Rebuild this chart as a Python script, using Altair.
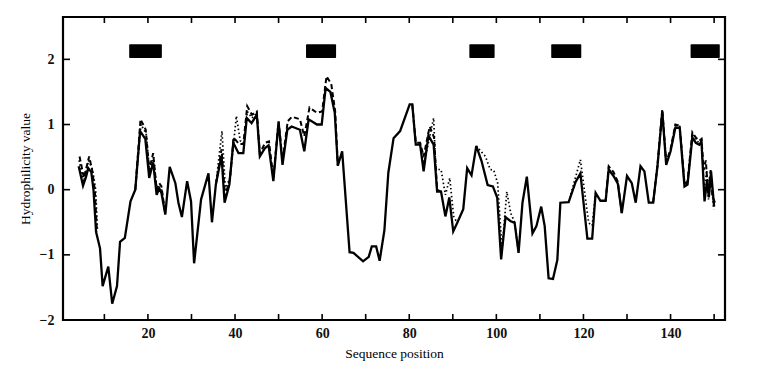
import altair as alt
import pandas as pd

# ---- data ----
solid_pos = [4.1, 5.1, 5.8, 6.3, 7.0, 7.5, 8.1, 9.0, 9.6, 10.9, 11.8, 12.9, 13.6, 14.7, 16.0, 17.1, 18.2, 19.4,
             20.3, 21.2, 22.0, 22.6, 23.1, 24.0, 25.0, 26.3, 27.0, 27.8, 29.0, 29.9, 30.6, 32.2, 33.9, 34.7,
             35.6, 36.9, 37.6, 38.7, 39.6, 40.8, 41.9, 42.7, 43.8, 45.0, 45.7, 46.9, 47.7, 48.8, 50.0, 50.9,
             52.0, 53.0, 54.9, 55.9, 56.9, 58.8, 59.9, 60.8, 61.9, 62.9, 63.6, 64.6, 66.3, 67.2, 69.4, 70.7,
             71.4, 72.4, 73.2, 74.3, 75.2, 76.4, 77.9, 80.1, 80.7, 81.5, 82.5, 83.3, 84.4, 85.6, 86.4, 87.3,
             88.3, 89.2, 90.1, 91.0, 92.4, 93.3, 94.3, 95.4, 96.6, 98.0, 99.2, 100.2, 101.1, 102.1, 103.2,
             104.2, 105.1, 106.0, 107.0, 108.3, 109.2, 110.3, 111.1, 112.0, 113.0, 114.0, 114.7, 116.6, 118.2,
             119.3, 120.9, 122.0, 122.8, 123.9, 125.1, 125.8, 126.9, 127.9, 128.8, 130.0, 131.1, 132.0, 133.1,
             134.0, 135.0, 136.0, 137.0, 138.1, 139.0, 140.0, 141.1, 142.1, 143.2, 143.9, 145.0, 145.8, 146.6,
             147.1, 147.8, 148.4, 148.8, 149.3, 150.0]
solid_val = [0.36, 0.06, 0.2, 0.33, 0.27, 0.0, -0.65, -0.9, -1.48, -1.18, -1.75, -1.48, -0.8, -0.74, -0.18, 0.0,
             0.9, 0.78, 0.18, 0.42, -0.08, 0.02, -0.05, -0.38, 0.35, 0.1, -0.2, -0.42, 0.13, -0.18, -1.13,
             -0.15, 0.25, -0.5, 0.08, 0.52, -0.2, 0.08, 0.72, 0.56, 0.56, 1.1, 1.02, 1.15, 0.51, 0.64, 0.68,
             0.13, 1.04, 0.38, 0.92, 0.97, 0.92, 0.59, 1.08, 1.0, 1.0, 1.56, 1.5, 1.18, 0.37, 0.59, -0.96,
             -0.97, -1.1, -1.03, -0.87, -0.87, -1.09, -0.62, 0.26, 0.79, 0.9, 1.31, 1.31, 0.69, 0.69, 0.28,
             0.83, 0.69, -0.03, -0.03, -0.41, -0.12, -0.64, -0.51, -0.3, 0.33, 0.22, 0.67, 0.44, 0.07, 0.05,
             -0.12, -1.07, -0.42, -0.48, -0.51, -0.97, -0.2, 0.2, -0.67, -0.56, -0.26, -0.56, -1.36, -1.37,
             -1.08, -0.2, -0.19, 0.12, 0.25, -0.75, -0.75, -0.05, -0.17, -0.17, 0.31, 0.21, 0.09, -0.36, 0.21,
             0.1, -0.2, 0.36, 0.28, -0.2, -0.2, 0.36, 1.2, 0.38, 0.59, 0.95, 0.95, 0.05, 0.08, 0.8, 0.72, 0.69,
             0.74, -0.18, 0.15, -0.12, 0.28, -0.26]

# dashed curve (only where it departs from the solid one), by segment
dashed_seg = [1] * 6 + [2] * 9 + [3] * 27 + [4] * 8 + [5] * 5 + [6] * 19
dashed_pos = [4.3, 5.3, 6.5, 7.2, 7.8, 8.3,
              17.1, 18.3, 19.5, 20.3, 21.2, 22.0, 22.6, 23.1, 24.0,
              35.6, 36.9, 37.7, 38.8, 39.7, 40.9, 41.9, 42.8, 43.9, 45.0, 45.7, 46.9, 47.8, 48.8, 50.0,
              50.9, 52.1, 53.1, 54.9, 55.9, 57.1, 58.8, 60.0, 61.0, 62.1, 63.0, 63.6,
              80.7, 81.5, 82.5, 83.3, 84.7, 85.7, 86.4, 87.3,
              125.1, 125.8, 126.9, 127.9, 128.8,
              136.0, 137.0, 138.1, 139.0, 140.0, 141.1, 142.1, 143.2, 143.9, 145.0, 145.8, 146.6, 147.1,
              147.6, 148.1, 148.6, 149.2, 149.6, 150.2]
dashed_val = [0.51, 0.18, 0.51, 0.3, 0.0, -0.65,
              0.0, 1.08, 0.92, 0.3, 0.56, 0.0, 0.1, 0.05, -0.38,
              0.08, 0.62, -0.1, 0.15, 0.8, 0.7, 0.7, 1.28, 1.15, 1.2, 0.55, 0.72, 0.74, 0.18, 1.05,
              0.45, 1.05, 1.12, 1.08, 0.82, 1.26, 1.18, 1.2, 1.74, 1.62, 1.2, 0.37,
              1.31, 0.72, 0.72, 0.51, 0.97, 0.8, 0.0, -0.03,
              -0.17, 0.36, 0.27, 0.12, -0.36,
              -0.2, 0.38, 1.23, 0.42, 0.62, 1.0, 0.98, 0.1, 0.12, 0.88, 0.8, 0.75, 0.78,
              0.3, 0.45, -0.05, 0.3, -0.1, -0.2]

# dotted curve (only where it departs from the solid one), by segment
dotted_seg = [1] * 6 + [2] * 8 + [3] * 11 + [4] * 9 + [5] * 10 + [6] * 5 + [7] * 18
dotted_pos = [4.2, 5.2, 6.4, 7.3, 8.0, 8.4,
              17.1, 18.4, 19.6, 20.4, 21.3, 22.1, 23.1, 24.0,
              35.6, 37.0, 37.8, 38.9, 40.3, 41.2, 42.0, 42.8, 43.9, 45.0, 45.7,
              82.5, 83.4, 85.6, 86.1, 87.3, 88.3, 89.3, 90.2, 91.0,
              95.4, 97.5, 98.6, 99.4, 100.3, 101.3, 102.4, 103.3, 104.2, 105.1,
              116.6, 119.3, 121.2, 122.0, 122.8,
              136.0, 137.0, 138.1, 139.0, 140.0, 141.1, 142.1, 143.2, 143.9, 145.0, 145.8, 146.6, 147.1,
              147.7, 148.3, 148.7, 149.3, 149.9]
dotted_val = [0.45, 0.12, 0.45, 0.3, 0.0, -0.6,
              0.0, 1.0, 0.86, 0.25, 0.5, -0.05, 0.02, -0.38,
              0.08, 0.9, 0.0, 0.2, 1.13, 0.75, 0.72, 1.2, 1.1, 1.18, 0.52,
              0.69, 0.4, 1.1, 0.31, 0.31, -0.08, 0.18, -0.41, -0.51,
              0.67, 0.51, 0.31, 0.3, 0.1, -0.92, -0.03, -0.36, -0.5, -0.97,
              -0.19, 0.46, -0.51, -0.55, -0.05,
              -0.2, 0.37, 1.21, 0.4, 0.6, 0.98, 0.97, 0.08, 0.1, 0.85, 0.76, 0.72, 0.76,
              0.0, 0.3, -0.15, 0.2, -0.3]

# black bars at the top
bar_start = [15.7, 56.3, 93.8, 112.6, 144.6]
bar_end = [23.2, 63.2, 99.6, 119.5, 151.3]
bar_low = [2.02, 2.02, 2.02, 2.02, 2.02]
bar_high = [2.23, 2.23, 2.23, 2.23, 2.23]

x_tick_values = [10, 20, 30, 40, 50, 60, 70, 80, 90, 100, 110, 120, 130, 140, 150]
x_label_values = [20, 40, 60, 80, 100, 120, 140]
y_tick_values = [-2, -1, 0, 1, 2]

# ---- chart ----
W, H = 662, 303
FONT = "Liberation Serif"

solid_df = pd.DataFrame({"pos": solid_pos, "val": solid_val})
dashed_df = pd.DataFrame({"pos": dashed_pos, "val": dashed_val, "seg": dashed_seg})
dotted_df = pd.DataFrame({"pos": dotted_pos, "val": dotted_val, "seg": dotted_seg})
bars_df = pd.DataFrame({"pos": bar_start, "pos2": bar_end, "val": bar_low, "val2": bar_high})
xt_df = pd.DataFrame({"pos": x_tick_values})
yt_df = pd.DataFrame({"val": y_tick_values})

xs = alt.Scale(domain=[0.5, 152.5], nice=False, zero=False)
ys = alt.Scale(domain=[-2, 2.65], nice=False, zero=False)

x_axis = alt.Axis(values=x_label_values, ticks=False, domain=False, grid=False,
                  labelFont=FONT, labelFontSize=14, labelFontWeight="bold", labelColor="#111",
                  labelPadding=6,
                  title="Sequence position", titleFont=FONT, titleFontSize=13.5,
                  titleFontWeight="normal", titleColor="black", titlePadding=6)
y_axis = alt.Axis(values=y_tick_values, format="d", ticks=False, domain=False, grid=False,
                  labelFont=FONT, labelFontSize=14, labelFontWeight="bold", labelColor="#111",
                  labelPadding=9,
                  title="Hydrophilicity value", titleFont=FONT, titleFontSize=13.5,
                  titleFontWeight="normal", titleColor="black", titlePadding=7)

solid = alt.Chart(solid_df).mark_line(color="black", strokeWidth=2.3).encode(
    x=alt.X("pos:Q", scale=xs, axis=x_axis),
    y=alt.Y("val:Q", scale=ys, axis=y_axis),
)
dashed = alt.Chart(dashed_df).mark_line(color="black", strokeWidth=2, strokeDash=[5, 3]).encode(
    x=alt.X("pos:Q", scale=xs), y=alt.Y("val:Q", scale=ys), detail="seg:N"
)
dotted = alt.Chart(dotted_df).mark_line(color="black", strokeWidth=1.7, strokeDash=[1.5, 2.5]).encode(
    x=alt.X("pos:Q", scale=xs), y=alt.Y("val:Q", scale=ys), detail="seg:N"
)
bars = alt.Chart(bars_df).mark_rect(color="black", cornerRadius=1).encode(
    x=alt.X("pos:Q", scale=xs), x2="pos2", y=alt.Y("val:Q", scale=ys), y2="val2"
)
tick_b = alt.Chart(xt_df).mark_rule(color="black", strokeWidth=1.6).encode(
    x=alt.X("pos:Q", scale=xs), y=alt.value(H), y2=alt.value(H - 6)
)
tick_t = alt.Chart(xt_df).mark_rule(color="black", strokeWidth=1.6).encode(
    x=alt.X("pos:Q", scale=xs), y=alt.value(0), y2=alt.value(6)
)
tick_l = alt.Chart(yt_df).mark_rule(color="black", strokeWidth=1.6).encode(
    y=alt.Y("val:Q", scale=ys), x=alt.value(0), x2=alt.value(7)
)
tick_r = alt.Chart(yt_df).mark_rule(color="black", strokeWidth=1.6).encode(
    y=alt.Y("val:Q", scale=ys), x=alt.value(W), x2=alt.value(W - 7)
)

chart = alt.layer(solid, dashed, dotted, bars, tick_b, tick_t, tick_l, tick_r).properties(
    width=W, height=H,
    autosize=alt.AutoSizeParams(type="none"),
    padding={"left": 55, "top": 9, "right": 30, "bottom": 50},
    background="white",
).configure_view(stroke="black", strokeWidth=2.2)

chart.save("out.html", embed_options={"renderer": "svg", "actions": False})
